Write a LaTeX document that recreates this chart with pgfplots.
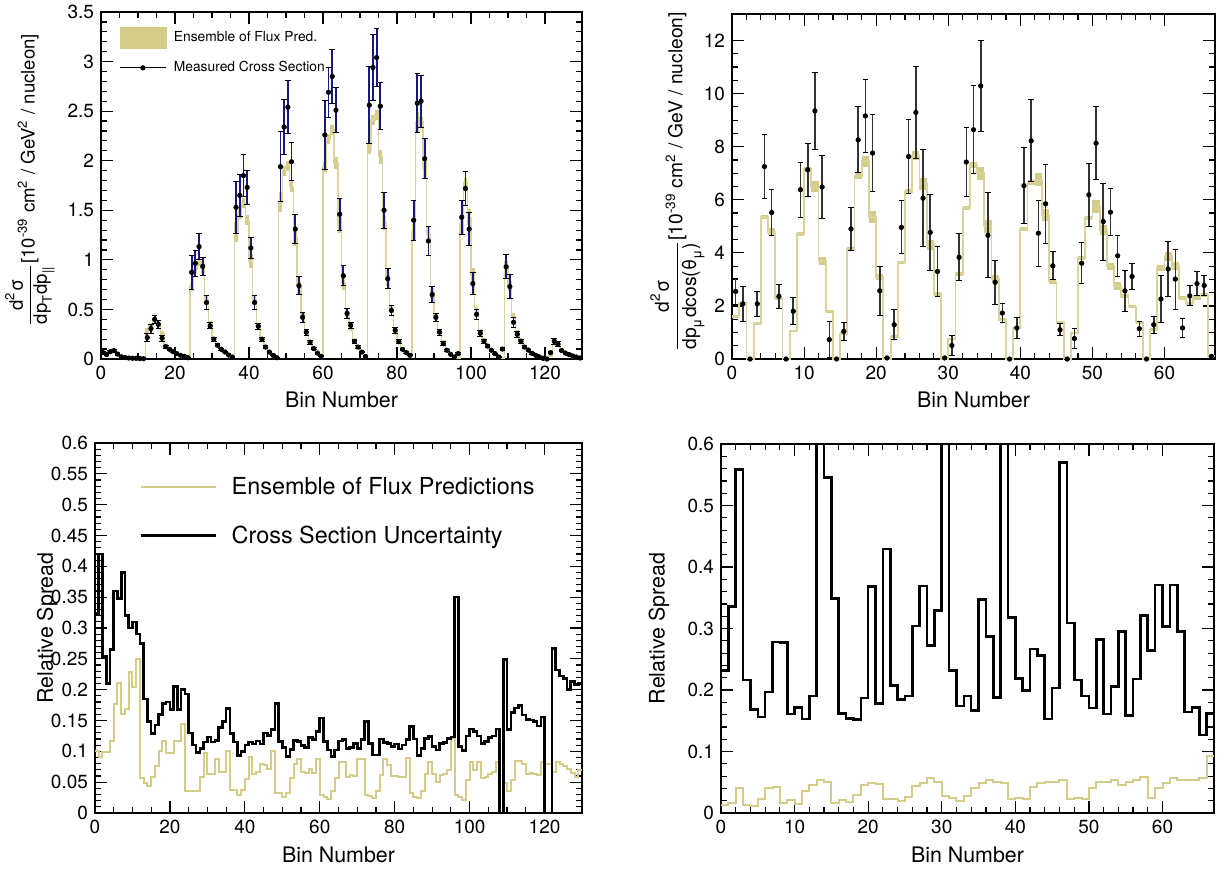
\documentclass[border=0pt]{standalone}
\usepackage{amsmath}
\usepackage{fontspec}
\setmainfont{TeX Gyre Heros}
\usepackage{pgfplots}
\usepackage{pgfplotstable}
\pgfplotsset{compat=1.18}

\definecolor{khaki}{RGB}{212,205,138}
\definecolor{khakiline}{RGB}{218,211,155}
\definecolor{navy}{RGB}{25,25,125}

% top-left: bin, measured, error, ensemble centre, ensemble half-width
\pgfplotstableread{
bin meas err band bhw
0 0.064 0.015 0.075 0.01
1 0.045 0.012 0.075 0.01
2 0.074 0.012 0.085 0.01
3 0.084 0.012 0.09 0.01
4 0.050 0.010 0.06 0.01
5 0.022 0.006 0.03 0.008
6 0.015 0.005 0.02 0.006
7 0.010 0.004 0.015 0.005
8 0.008 0.003 0.012 0.005
9 0.007 0.003 0.010 0.005
10 0.005 0.003 0.008 0.005
11 0.003 0.002 0.005 0.005
12 0.216 0.040 0.29 0.025
13 0.307 0.045 0.34 0.02
14 0.400 0.040 0.38 0.02
15 0.350 0.040 0.36 0.02
16 0.210 0.030 0.26 0.02
17 0.125 0.015 0.14 0.01
18 0.098 0.010 0.11 0.01
19 0.074 0.008 0.08 0.008
20 0.054 0.006 0.055 0.006
21 0.037 0.005 0.035 0.005
22 0.027 0.004 0.02 0.005
23 0.013 0.003 0.01 0.005
24 0.874 0.17 0.73 0.04
25 0.965 0.13 0.90 0.04
26 1.134 0.13 0.98 0.04
27 0.935 0.09 0.91 0.05
28 0.570 0.07 0.60 0.04
29 0.334 0.03 0.36 0.02
30 0.200 0.02 0.21 0.015
31 0.138 0.015 0.14 0.01
32 0.098 0.010 0.10 0.01
33 0.071 0.008 0.07 0.008
34 0.040 0.006 0.04 0.006
35 0.020 0.004 0.02 0.005
36 1.53 0.26 1.28 0.10
37 1.65 0.21 1.47 0.06
38 1.85 0.21 1.57 0.05
39 1.73 0.17 1.40 0.05
40 1.12 0.11 0.99 0.07
41 0.57 0.07 0.60 0.05
42 0.33 0.03 0.33 0.02
43 0.20 0.02 0.21 0.015
44 0.12 0.012 0.13 0.01
45 0.07 0.008 0.08 0.008
46 0.037 0.005 0.05 0.006
47 0.013 0.003 0.02 0.005
48 1.94 0.35 1.58 0.10
49 2.34 0.28 1.90 0.05
50 2.54 0.27 1.95 0.05
51 1.99 0.19 1.74 0.06
52 1.31 0.15 1.22 0.08
53 0.74 0.09 0.73 0.06
54 0.42 0.05 0.43 0.03
55 0.27 0.03 0.28 0.02
56 0.17 0.02 0.17 0.01
57 0.105 0.01 0.10 0.01
58 0.06 0.008 0.055 0.006
59 0.027 0.005 0.02 0.005
60 2.26 0.35 1.94 0.05
61 2.69 0.25 2.22 0.05
62 2.85 0.27 2.31 0.05
63 2.51 0.23 1.98 0.06
64 1.46 0.16 1.35 0.08
65 0.84 0.10 0.77 0.07
66 0.46 0.05 0.45 0.03
67 0.34 0.03 0.30 0.02
68 0.18 0.02 0.18 0.015
69 0.12 0.012 0.11 0.01
70 0.07 0.008 0.07 0.008
71 0.025 0.005 0.03 0.005
72 2.56 0.39 2.12 0.05
73 2.94 0.33 2.41 0.05
74 3.04 0.29 2.46 0.05
75 2.55 0.24 2.04 0.07
76 1.50 0.18 1.37 0.07
77 0.81 0.10 0.80 0.06
78 0.49 0.05 0.50 0.03
79 0.29 0.03 0.30 0.02
80 0.175 0.02 0.18 0.015
81 0.098 0.01 0.11 0.01
82 0.064 0.008 0.064 0.008
83 0.037 0.005 0.03 0.005
84 1.40 0.20 1.28 0.08
85 2.58 0.30 2.39 0.10
86 2.60 0.26 2.39 0.05
87 2.02 0.20 1.92 0.10
88 1.19 0.15 1.26 0.07
89 0.65 0.08 0.67 0.05
90 0.42 0.04 0.43 0.03
91 0.27 0.03 0.28 0.02
92 0.155 0.02 0.18 0.015
93 0.088 0.01 0.10 0.01
94 0.047 0.006 0.057 0.006
95 0.020 0.004 0.03 0.005
96 0.054 0.008 0.01 0.005
97 1.43 0.17 1.36 0.10
98 1.72 0.17 1.78 0.05
99 1.31 0.17 1.43 0.08
100 0.76 0.11 0.84 0.08
101 0.45 0.05 0.49 0.03
102 0.26 0.03 0.28 0.02
103 0.18 0.02 0.20 0.015
104 0.13 0.012 0.13 0.01
105 0.088 0.01 0.08 0.008
106 0.054 0.006 0.047 0.006
107 0.020 0.004 0.02 0.005
108 0.10 0.015 0.01 0.005
109 0.93 0.12 0.91 0.08
110 0.73 0.12 0.74 0.05
111 0.37 0.05 0.43 0.03
112 0.25 0.03 0.27 0.02
113 0.18 0.02 0.18 0.015
114 0.12 0.012 0.12 0.01
115 0.09 0.01 0.08 0.008
116 0.057 0.007 0.055 0.006
117 0.037 0.005 0.035 0.005
118 0.02 0.004 0.02 0.005
119 0.007 0.003 0.005 0.004
120 0.0 0.002 0.0 0.003
121 0.064 0.012 0.03 0.005
122 0.18 0.03 0.17 0.015
123 0.15 0.025 0.15 0.015
124 0.085 0.012 0.09 0.01
125 0.06 0.008 0.06 0.008
126 0.045 0.006 0.045 0.006
127 0.03 0.005 0.03 0.005
128 0.02 0.004 0.02 0.005
129 0.01 0.003 0.01 0.005
130 nan 0 0.01 0
}\tlA

% top-right
\pgfplotstableread{
bin meas err band bhw
0 2.55 0.48 1.6 0.05
1 2.08 0.65 2.1 0.05
2 0 0 0 0.03
3 2.08 0.47 1.35 0.05
4 7.25 1.2 5.35 0.07
5 5.52 0.85 4.8 0.12
6 2.36 0.46 2.3 0.08
7 0 0 0 0.03
8 1.8 0.5 1.05 0.05
9 6.38 1.03 4.72 0.08
10 7.13 1.0 7.15 0.1
11 9.35 1.45 6.5 0.2
12 6.48 1.2 3.7 0.15
13 0.73 0.67 1.8 0.06
14 0 0 0 0.03
15 1.04 0.35 0.95 0.05
16 4.9 0.82 4.15 0.06
17 8.26 1.25 6.9 0.1
18 9.16 1.38 7.45 0.2
19 7.76 1.45 5.35 0.22
20 2.57 0.93 3.1 0.12
21 0.04 0 0 0.03
22 1.29 0.56 0.85 0.05
23 4.96 1.0 3.65 0.06
24 7.63 1.38 6.3 0.1
25 9.29 1.75 7.65 0.17
26 6.06 1.82 6.6 0.22
27 4.77 1.43 4.3 0.18
28 3.3 0.93 2.45 0.08
29 0.04 0 0 0.03
30 0.51 0.38 0.75 0.05
31 3.83 0.89 3.2 0.06
32 7.42 1.3 5.7 0.08
33 8.64 1.65 7.3 0.12
34 10.29 1.73 7.0 0.25
35 4.66 1.6 5.0 0.25
36 2.89 0.83 3.0 0.15
37 1.73 0.36 1.48 0.06
38 0 0 0 0.03
39 1.17 0.38 1.17 0.05
40 6.53 1.44 4.9 0.08
41 8.22 1.55 6.65 0.1
42 4.74 1.25 6.75 0.25
43 5.85 1.49 5.43 0.22
44 3.51 0.53 2.92 0.1
45 1.1 0.22 1.38 0.05
46 0 0 0 0.03
47 0.77 0.38 0.98 0.05
48 3.61 0.78 3.8 0.08
49 6.19 1.18 5.3 0.08
50 8.13 1.38 5.75 0.25
51 5.18 1.45 4.87 0.18
52 5.53 0.88 3.49 0.12
53 3.89 0.78 2.74 0.15
54 2.57 0.77 2.36 0.08
55 3.11 0.48 1.98 0.06
56 1.14 0.28 1.38 0.05
57 0 0 0 0.03
58 1.29 0.33 1.1 0.05
59 2.26 0.87 3.43 0.1
60 3.39 1.02 3.87 0.18
61 3.01 1.13 3.49 0.15
62 1.17 0.36 2.3 0.08
63 2.38 0.38 2.1 0.06
64 2.84 0.46 2.32 0.08
65 2.77 0.38 2.42 0.08
66 0.1 0 0.1 0.03
67 nan 0 0.1 0
}\trA

% bottom-left: bin, cross-section uncertainty, ensemble spread
\pgfplotstableread{
bin bk kh
0 0.324 0.1
1 0.42 0.091
2 0.254 0.099
3 0.21 0.099
4 0.265 0.117
5 0.36 0.177
6 0.348 0.211
7 0.39 0.16
8 0.32 0.168
9 0.30 0.229
10 0.31 0.205
11 0.29 0.249
12 0.275 0.056
13 0.185 0.049
14 0.148 0.043
15 0.129 0.059
16 0.143 0.076
17 0.16 0.1
18 0.178 0.117
19 0.18 0.098
20 0.168 0.098
21 0.205 0.117
22 0.168 0.116
23 0.2 0.144
24 0.193 0.036
25 0.13 0.036
26 0.11 0.035
27 0.098 0.035
28 0.105 0.059
29 0.115 0.097
30 0.123 0.064
31 0.115 0.064
32 0.118 0.088
33 0.139 0.066
34 0.148 0.066
35 0.169 0.1
36 0.129 0.038
37 0.115 0.037
38 0.093 0.029
39 0.1 0.037
40 0.11 0.055
41 0.115 0.091
42 0.112 0.064
43 0.117 0.067
44 0.112 0.079
45 0.13 0.078
46 0.126 0.071
47 0.135 0.101
48 0.178 0.033
49 0.116 0.033
50 0.106 0.026
51 0.092 0.033
52 0.103 0.056
53 0.118 0.079
54 0.116 0.087
55 0.109 0.067
56 0.106 0.065
57 0.122 0.071
58 0.119 0.065
59 0.132 0.087
60 0.154 0.029
61 0.116 0.026
62 0.102 0.022
63 0.092 0.035
64 0.102 0.056
65 0.117 0.082
66 0.119 0.082
67 0.105 0.058
68 0.106 0.062
69 0.113 0.06
70 0.105 0.087
71 0.119 0.087
72 0.148 0.029
73 0.113 0.027
74 0.094 0.025
75 0.094 0.035
76 0.12 0.062
77 0.114 0.087
78 0.113 0.078
79 0.108 0.06
80 0.112 0.06
81 0.104 0.058
82 0.11 0.059
83 0.119 0.089
84 0.14 0.033
85 0.12 0.026
86 0.093 0.024
87 0.105 0.035
88 0.121 0.064
89 0.124 0.082
90 0.108 0.064
91 0.102 0.051
92 0.113 0.062
93 0.114 0.064
94 0.121 0.07
95 0.123 0.121
96 0.35 0.03
97 0.108 0.026
98 0.101 0.021
99 0.125 0.054
100 0.136 0.083
101 0.132 0.07
102 0.125 0.082
103 0.113 0.056
104 0.116 0.059
105 0.122 0.064
106 0.125 0.067
107 0.136 0.083
108 0 0.06
109 0.249 0.049
110 0.135 0.035
111 0.163 0.054
112 0.17 0.084
113 0.174 0.084
114 0.159 0.08
115 0.152 0.064
116 0.151 0.065
117 0.148 0.064
118 0.141 0.062
119 0.156 0.082
120 0 0.08
121 0 0.08
122 0.267 0.067
123 0.232 0.082
124 0.222 0.079
125 0.218 0.076
126 0.2 0.072
127 0.213 0.065
128 0.208 0.059
129 0.21 0.069
130 0.21 0.069
}\blA

% bottom-right
\pgfplotstableread{
bin bk kh
0 0.232 0.0135
1 0.336 0.017
2 0.559 0.04
3 0.216 0.0135
4 0.168 0.012
5 0.156 0.023
6 0.197 0.04
7 0.278 0.043
8 0.277 0.017
9 0.161 0.021
10 0.172 0.015
11 0.153 0.035
12 0.19 0.046
13 0.9 0.053
14 0.546 0.05
15 0.349 0.017
16 0.162 0.021
17 0.154 0.018
18 0.152 0.03
19 0.187 0.046
20 0.368 0.048
21 0.178 0.047
22 0.429 0.023
23 0.207 0.023
24 0.185 0.019
25 0.19 0.026
26 0.304 0.044
27 0.369 0.049
28 0.272 0.057
29 0.329 0.05
30 0.9 0.027
31 0.232 0.024
32 0.174 0.019
33 0.19 0.028
34 0.167 0.041
35 0.347 0.049
36 0.287 0.054
37 0.188 0.05
38 0.9 0.049
39 0.318 0.022
40 0.219 0.024
41 0.199 0.023
42 0.267 0.043
43 0.256 0.049
44 0.153 0.05
45 0.203 0.051
46 0.57 0.054
47 0.309 0.022
48 0.216 0.024
49 0.19 0.023
50 0.171 0.041
51 0.282 0.05
52 0.161 0.051
53 0.206 0.054
54 0.295 0.046
55 0.159 0.051
56 0.218 0.053
57 0.321 0.058
58 0.264 0.024
59 0.371 0.041
60 0.303 0.049
61 0.371 0.057
62 0.295 0.053
63 0.164 0.053
64 0.172 0.053
65 0.127 0.057
66 0.162 0.093
67 0.162 0.093
}\brA

\pgfplotsset{
  rootax/.style={
    scale only axis,
    anchor=south west,
    axis line style={line width=0.8pt},
    every tick/.style={black, line width=0.6pt},
    major tick length=6pt,
    minor tick length=3pt,
    xtick pos=both, ytick pos=both,
    tick align=inside,
    tick label style={font=\fontsize{9.5}{11}\selectfont},
    /pgf/number format/assume math mode=true,
    label style={font=\fontsize{10.7}{13}\selectfont},
    scaled ticks=false,
    yticklabel style={/pgf/number format/fixed, /pgf/number format/precision=2},
    clip=true,
  },
}

\begin{document}
\begin{tikzpicture}
\useasboundingbox (0pt,0pt) rectangle (612.5pt,434.5pt);

% ---------------- top-left ----------------
\begin{axis}[rootax,
  at={(50.5pt,255pt)}, width=240.5pt, height=173.5pt,
  xmin=0, xmax=130, ymin=0, ymax=3.5,
  xtick={0,20,...,120}, minor x tick num=3,
  ytick={0,0.5,...,3.5}, minor y tick num=4,
  xlabel={Bin Number},
  xlabel style={at={(axis description cs:0.5,-0.118)}, anchor=center},
  ylabel={$\dfrac{\text{d}^{\text{2}}\text{σ}}{\text{dp}_{\text{T}}\text{dp}_{\text{||}}}$[10$^{\text{-39}}$ cm$^{\text{2}}$ / GeV$^{\text{2}}$ / nucleon]},
  ylabel style={at={(axis description cs:-0.148,0.515)}, anchor=center, font=\fontsize{9.3}{11}\selectfont},
  legend cell align=left,
  legend style={draw=none, fill=none, at={(axis description cs:0,1)}, anchor=north west,
    xshift=9pt, yshift=-7.5pt, font=\fontsize{6.9}{8}\selectfont, row sep=4pt, inner sep=0pt},
]
\addplot[forget plot, draw=none, mark=none, restrict x to domain=0:130,
  error bars/.cd, y dir=both, y explicit, error mark=none,
  error bar style={draw=khaki, line width=1.85pt}]
  table[x expr=\thisrow{bin}+0.5, y=band, y error=bhw]{\tlA};
\addplot[forget plot, const plot, khakiline, line width=0.7pt]
  table[x=bin, y=band]{\tlA};
\addplot[forget plot, only marks, mark=*, mark size=1.1pt, black, restrict x to domain=0:130,
  error bars/.cd, y dir=both, y explicit,
  error bar style={draw=navy, line width=0.9pt},
  error mark options={rotate=90, black, line width=0.5pt, mark size=1.4pt}]
  table[x expr=\thisrow{bin}+0.5, y=meas, y error=err]{\tlA};
\addlegendimage{legend image code/.code={\fill[khaki] (0pt,-5.25pt) rectangle (23pt,5.25pt); \path[draw=none] (0pt,0pt) -- (25pt,0pt);}}
\addlegendentry{Ensemble of Flux Pred.}
\addlegendimage{legend image code/.code={\draw[black, line width=0.5pt] (0pt,0pt) -- (23pt,0pt); \fill[black] (11.5pt,0pt) circle (1.1pt); \path[draw=none] (0pt,0pt) -- (25pt,0pt);}}
\addlegendentry{Measured Cross Section}
\end{axis}

% ---------------- top-right ----------------
\begin{axis}[rootax,
  at={(366pt,255pt)}, width=241.5pt, height=172.5pt,
  xmin=0, xmax=67, ymin=0, ymax=13,
  xtick={0,10,...,60}, minor x tick num=4,
  ytick={0,2,...,12}, minor y tick num=3,
  xlabel={Bin Number},
  xlabel style={at={(axis description cs:0.5,-0.118)}, anchor=center},
  ylabel={$\dfrac{\text{d}^{\text{2}}\text{σ}}{\text{dp}_{\text{μ}}\text{dcos(θ}_{\text{μ}}\text{)}}$[10$^{\text{-39}}$ cm$^{\text{2}}$ / GeV / nucleon]},
  ylabel style={at={(axis description cs:-0.113,0.513)}, anchor=center, font=\fontsize{9.6}{11.5}\selectfont},
]
\addplot[forget plot, draw=none, mark=none, restrict x to domain=0:67,
  error bars/.cd, y dir=both, y explicit, error mark=none,
  error bar style={draw=khaki, line width=3.6pt}]
  table[x expr=\thisrow{bin}+0.5, y=band, y error=bhw]{\trA};
\addplot[forget plot, const plot, khakiline, line width=0.9pt]
  table[x=bin, y=band]{\trA};
\addplot[forget plot, only marks, mark=*, mark size=1.1pt, black, restrict x to domain=0:67,
  error bars/.cd, y dir=both, y explicit,
  error bar style={draw=black!80, line width=0.8pt},
  error mark options={rotate=90, black, line width=0.5pt, mark size=1.4pt}]
  table[x expr=\thisrow{bin}+0.5, y=meas, y error=err]{\trA};
\end{axis}

% ---------------- bottom-left ----------------
\begin{axis}[rootax,
  at={(47.5pt,28pt)}, width=243.5pt, height=185pt,
  xmin=0, xmax=130, ymin=0, ymax=0.6,
  xtick={0,20,...,120}, minor x tick num=3,
  ytick={0,0.05,...,0.61}, minor y tick num=4,
  xlabel={Bin Number},
  xlabel style={at={(axis description cs:0.5,-0.114)}, anchor=center},
  ylabel={Relative Spread},
  ylabel style={at={(axis description cs:-0.098,0.5)}, anchor=center},
  legend cell align=left,
  legend image code/.code={\draw[#1] (0pt,0pt) -- (37.5pt,0pt); \path[draw=none] (0pt,0pt) -- (43.5pt,0pt);},
  legend style={draw=none, fill=none, at={(axis description cs:0,1)}, anchor=north west,
    xshift=22pt, yshift=-15pt, font=\fontsize{11.7}{14}\selectfont, row sep=10pt, inner sep=0pt},
]
\addplot[forget plot, const plot, khaki, line width=1pt] table[x=bin, y=kh]{\blA};
\addplot[forget plot, const plot, black, line width=1.3pt] table[x=bin, y=bk]{\blA};
\addlegendimage{khaki, line width=1pt}
\addlegendentry{Ensemble of Flux Predictions}
\addlegendimage{black, line width=1.3pt}
\addlegendentry{Cross Section Uncertainty}
\end{axis}

% ---------------- bottom-right ----------------
\begin{axis}[rootax,
  at={(360.5pt,28pt)}, width=246.5pt, height=184.5pt,
  xmin=0, xmax=67, ymin=0, ymax=0.6,
  xtick={0,10,...,60}, minor x tick num=4,
  ytick={0,0.1,...,0.61}, minor y tick num=4,
  xlabel={Bin Number},
  xlabel style={at={(axis description cs:0.5,-0.114)}, anchor=center},
  ylabel={Relative Spread},
  ylabel style={at={(axis description cs:-0.126,0.5)}, anchor=center},
]
\addplot[forget plot, const plot, khaki, line width=1pt] table[x=bin, y=kh]{\brA};
\addplot[forget plot, const plot, black, line width=1.3pt] table[x=bin, y=bk]{\brA};
\end{axis}
\end{tikzpicture}
\end{document}
